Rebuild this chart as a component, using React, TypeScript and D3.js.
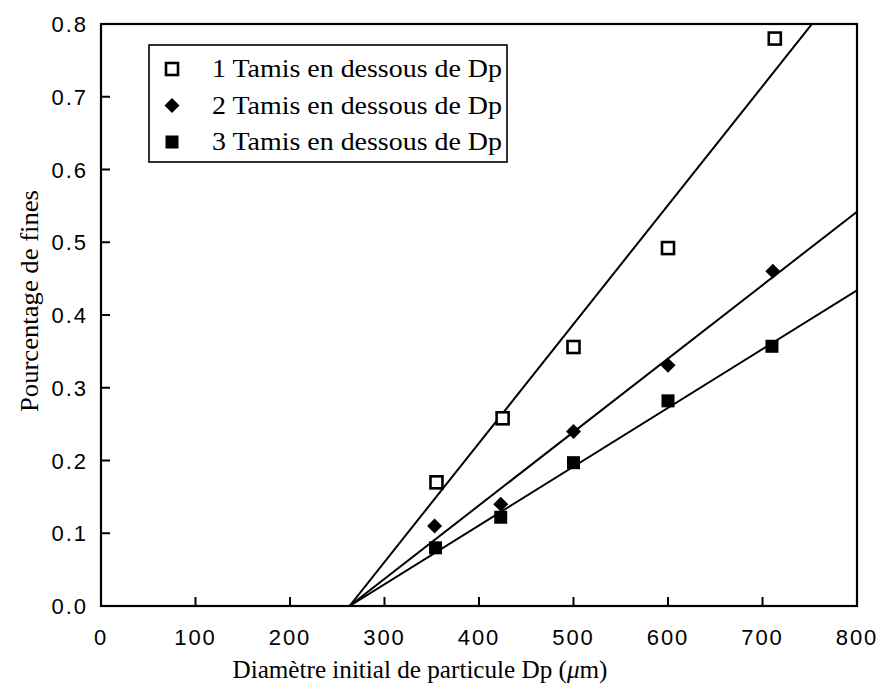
import React from "react";
import * as d3 from "d3";

// Initial particle diameter (µm) for each sieve series
const series1X = [355, 425, 500, 600, 713];
const series1Y = [0.17, 0.258, 0.356, 0.492, 0.78];
const series2X = [353, 423, 500, 600, 711];
const series2Y = [0.11, 0.14, 0.24, 0.331, 0.46];
const series3X = [354, 423, 500, 600, 710];
const series3Y = [0.08, 0.122, 0.197, 0.282, 0.357];

// Linear fits: start and end points (x in µm, y as fraction of fines)
const fitX0 = [263, 263, 263];
const fitY0 = [0, 0, 0];
const fitX1 = [800, 800, 800];
const fitY1 = [0.878, 0.542, 0.434];

const legendLabels = [
  "1 Tamis en dessous de Dp",
  "2 Tamis en dessous de Dp",
  "3 Tamis en dessous de Dp",
];
const xTicks = [0, 100, 200, 300, 400, 500, 600, 700, 800];
const yTicks = [0, 0.1, 0.2, 0.3, 0.4, 0.5, 0.6, 0.7, 0.8];

const W = 877;
const H = 685;
const left = 101;
const right = 857;
const top = 24;
const bottom = 606;

const serif = "'Liberation Serif', 'Times New Roman', serif";
const sans = "'Liberation Sans Narrow', 'Liberation Sans', Arial, sans-serif";

function Marker({ kind, x, y }: { kind: number; x: number; y: number }) {
  if (kind === 0) {
    return (
      <rect x={x - 6} y={y - 6} width={12} height={12} fill="#fff" stroke="#000" strokeWidth={2.6} />
    );
  }
  if (kind === 1) {
    const s = 7.5;
    return <path d={`M${x},${y - s}L${x + s},${y}L${x},${y + s}L${x - s},${y}Z`} fill="#000" />;
  }
  return <rect x={x - 6.5} y={y - 6.5} width={13} height={13} fill="#000" />;
}

export default function App() {
  const x = d3.scaleLinear().domain([0, 800]).range([left, right]);
  const y = d3.scaleLinear().domain([0, 0.8]).range([bottom, top]);

  const seriesX = [series1X, series2X, series3X];
  const seriesY = [series1Y, series2Y, series3Y];
  const line = d3
    .line<[number, number]>()
    .x((d) => x(d[0]))
    .y((d) => y(d[1]));

  return (
    <svg width={W} height={H} style={{ display: "block", position: "absolute", left: 0, top: 0, background: "#fff" }}>
      <defs>
        <clipPath id="plot">
          <rect x={left} y={top} width={right - left} height={bottom - top} />
        </clipPath>
      </defs>
      <rect width={W} height={H} fill="#fff" />

      {/* fitted lines */}
      <g clipPath="url(#plot)">
        {fitX0.map((_, i) => (
          <path
            key={i}
            d={line([
              [fitX0[i], fitY0[i]],
              [fitX1[i], fitY1[i]],
            ]) as string}
            fill="none"
            stroke="#000"
            strokeWidth={2}
          />
        ))}
      </g>

      {/* frame */}
      <rect x={left} y={top} width={right - left} height={bottom - top} fill="none" stroke="#000" strokeWidth={2.2} />

      {/* ticks, inward */}
      {xTicks.slice(1, -1).map((t) => (
        <line key={t} x1={x(t)} x2={x(t)} y1={bottom} y2={bottom - 9} stroke="#000" strokeWidth={2} />
      ))}
      {yTicks.slice(1, -1).map((t) => (
        <line key={t} x1={left} x2={left + 9} y1={y(t)} y2={y(t)} stroke="#000" strokeWidth={2} />
      ))}

      {/* tick labels */}
      {xTicks.map((t) => (
        <text key={t} x={x(t)} y={645} textAnchor="middle" fontFamily={sans} fontSize={22} letterSpacing={2} fill="#000">
          {String(t)}
        </text>
      ))}
      {yTicks.map((t) => (
        <text key={t} x={88} y={y(t) + 8} textAnchor="end" fontFamily={sans} fontSize={22} letterSpacing={2} fill="#000">
          {d3.format(".1f")(t)}
        </text>
      ))}

      {/* data points */}
      {seriesX.map((xs, k) =>
        xs.map((v, i) => <Marker key={`${k}-${i}`} kind={k} x={x(v)} y={y(seriesY[k][i])} />)
      )}

      {/* legend */}
      <rect x={149} y={45} width={358} height={117} fill="#fff" stroke="#000" strokeWidth={1.6} />
      {legendLabels.map((lab, i) => {
        const cy = 69 + i * 36.5;
        return (
          <g key={lab}>
            <Marker kind={i} x={172} y={cy} />
            <text x={212} y={cy + 8} fontFamily={serif} fontSize={25} textLength={290} lengthAdjust="spacingAndGlyphs" fill="#000">
              {lab}
            </text>
          </g>
        );
      })}

      {/* axis titles */}
      <text x={420} y={678} textAnchor="middle" fontFamily={serif} fontSize={25} textLength={375} lengthAdjust="spacingAndGlyphs" fill="#000">
        Diamètre initial de particule Dp (<tspan fontStyle="italic">μ</tspan>m)
      </text>
      <text
        transform="translate(38,301) rotate(-90)"
        textAnchor="middle"
        fontFamily={serif}
        fontSize={25}
        textLength={222}
        lengthAdjust="spacingAndGlyphs"
        fill="#000"
      >
        Pourcentage de fines
      </text>
    </svg>
  );
}
